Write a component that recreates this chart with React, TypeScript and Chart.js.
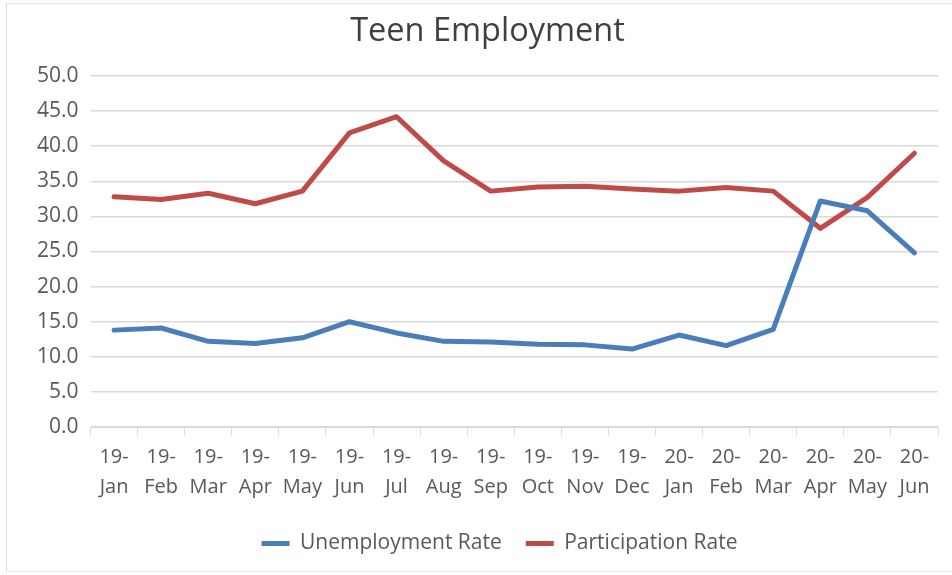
import React, { useEffect, useRef } from "react";
import { Chart, registerables } from "chart.js";

Chart.register(...registerables);

const months = ["Jan","Feb","Mar","Apr","May","Jun","Jul","Aug","Sep","Oct","Nov","Dec","Jan","Feb","Mar","Apr","May","Jun"];
const years = ["19-","19-","19-","19-","19-","19-","19-","19-","19-","19-","19-","19-","20-","20-","20-","20-","20-","20-"];
const unemployment = [13.8, 14.1, 12.2, 11.9, 12.7, 15.0, 13.4, 12.2, 12.1, 11.8, 11.7, 11.1, 13.1, 11.6, 13.9, 32.2, 30.8, 24.8];
const participation = [32.8, 32.4, 33.3, 31.8, 33.6, 41.9, 44.2, 37.9, 33.6, 34.2, 34.3, 33.9, 33.6, 34.1, 33.6, 28.3, 32.7, 39.0];
const yTicksMax = 50;

const shiftBoxes = {
  id: "shiftBoxes",
  afterLayout(chart: any) {
    const t = chart.titleBlock;
    if (t) { t.left += 6; t.right += 6; }
    const l = chart.legend;
    if (l) { l.left += 18; l.right += 18; }
  },
};

export default function App() {
  const ref = useRef<HTMLCanvasElement | null>(null);
  useEffect(() => {
    if (!ref.current) return;
    const font = "'Open Sans', 'Liberation Sans', sans-serif";
    const chart = new Chart(ref.current, {
      type: "line",
      data: {
        labels: months.map((m, i) => [years[i], m]),
        datasets: [
          {
            label: "Unemployment Rate",
            data: unemployment,
            borderColor: "#4A7EBB",
            backgroundColor: "#4A7EBB",
            borderWidth: 5,
            pointRadius: 0,
            tension: 0,
            borderJoinStyle: "round",
            borderCapStyle: "round",
          },
          {
            label: "Participation Rate",
            data: participation,
            borderColor: "#BE4B48",
            backgroundColor: "#BE4B48",
            borderWidth: 5,
            pointRadius: 0,
            tension: 0,
            borderJoinStyle: "round",
            borderCapStyle: "round",
          },
        ],
      },
      options: {
        animation: false,
        responsive: false,
        maintainAspectRatio: false,
        layout: { padding: { left: 25, right: 14, top: 12, bottom: 11 } },
        plugins: {
          title: {
            display: true,
            text: "Teen Employment",
            color: "#404040",
            font: { family: font, size: 32.5, weight: "normal" },
            padding: { top: 0, bottom: 25 },
          },
          legend: {
            position: "bottom",
            labels: {
              usePointStyle: true,
              pointStyle: "line",
              pointStyleWidth: 28,
              color: "#595959",
              font: { family: font, size: 21 },
              padding: 24,
              boxHeight: 5,
            },
          },
          tooltip: { enabled: false },
        },
        scales: {
          x: {
            offset: true,
            grid: {
              display: true,
              offset: true,
              drawOnChartArea: false,
              drawTicks: true,
              tickLength: 8,
              color: "#d9d9d9",
            },
            border: { display: true, color: "#d9d9d9" },
            ticks: {
              color: "#595959",
              font: { family: font, size: 20, lineHeight: 1.5 },
              maxRotation: 0,
              autoSkip: false,
              padding: 7,
            },
          },
          y: {
            min: 0,
            max: yTicksMax,
            grid: { color: "#d9d9d9", drawTicks: false, lineWidth: 1.5 },
            border: { display: false },
            ticks: {
              stepSize: 5,
              color: "#595959",
              font: { family: font, size: 21 },
              padding: 12,
              callback: (v: any) => Number(v).toFixed(1),
            },
          },
        },
      },
      plugins: [shiftBoxes],
    });
    return () => chart.destroy();
  }, []);
  return (
    <div style={{ position: "absolute", left: 0, top: 0, width: 952, height: 575, background: "#fff" }}>
      <div style={{ position: "absolute", left: 6, top: 3, width: 946, height: 567, borderLeft: "1px solid #d9d9d9", borderTop: "1px solid #e3e3e3", borderBottom: "1px solid #ececec" }} />
      <canvas ref={ref} width={952} height={575} style={{ position: "absolute", left: 0, top: 0 }} />
    </div>
  );
}
